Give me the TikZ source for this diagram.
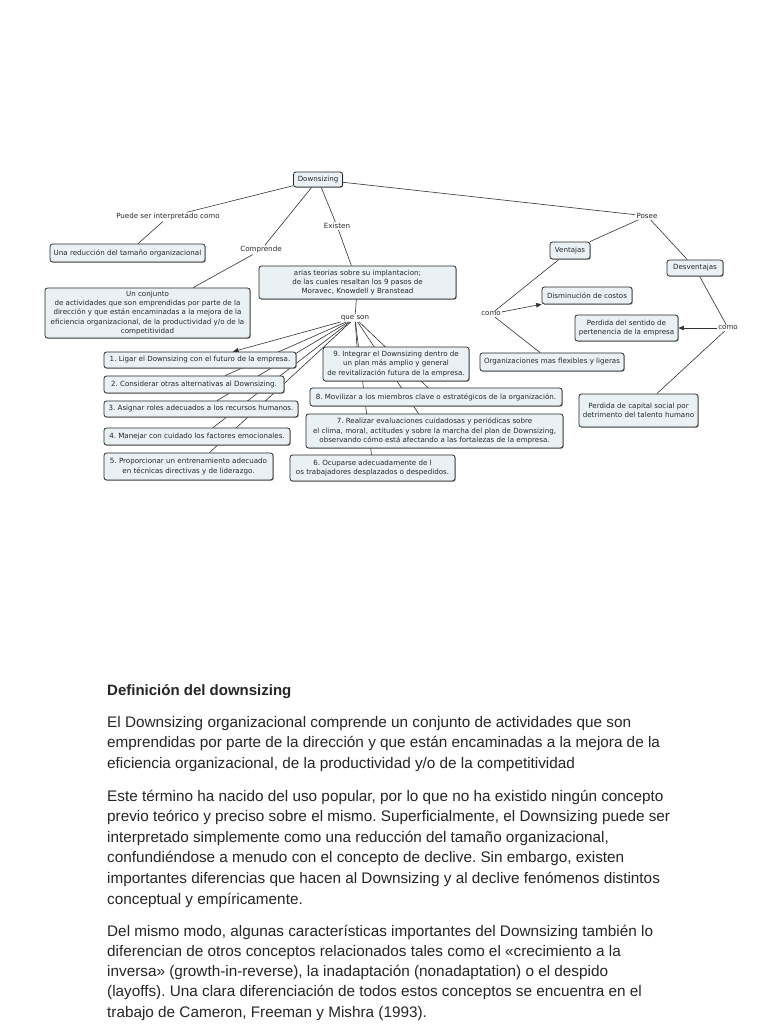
\documentclass[tikz,border=0pt]{standalone}
\usepackage{fontspec}
\newfontfamily\dvs{DejaVu Sans}
\newfontfamily\lsans{Liberation Sans}
\usetikzlibrary{arrows.meta,backgrounds,shadows}
\definecolor{boxfill}{RGB}{233,241,244}
\definecolor{edgecol}{RGB}{50,50,50}
\definecolor{txtcol}{RGB}{40,40,40}
\frenchspacing
\begin{document}
\begin{tikzpicture}[x=1pt,y=-1pt,
  concept/.style={draw=black!85, line width=0.75pt, fill=boxfill, rounded corners=2.5pt,
    align=center, inner sep=1pt, font=\dvs\fontsize{7.1}{9.2}\selectfont, text=txtcol,
    general shadow={fill=black!50, shadow xshift=0.7pt, shadow yshift=-0.7pt}},
  link/.style={inner sep=1pt, font=\dvs\fontsize{7.1}{8}\selectfont, text=txtcol},
  conn/.style={draw=edgecol, line width=0.6pt},
  arr/.style={conn, -{Triangle[length=5.5pt,width=4.5pt]}},
  body/.style={anchor=base west, inner sep=0pt, font=\lsans\fontsize{15.3}{20}\selectfont, text=black!85}
]
\useasboundingbox (0,0) rectangle (768,1024);

% concepts
\node[concept, minimum width=49pt, minimum height=15pt] (ds) at (318,179.5) {Downsizing};
\node[concept, minimum width=155pt, minimum height=18pt] (red) at (127.5,253) {Una reducción del tamaño organizacional};
\node[concept, minimum width=205pt, minimum height=50pt] (conj) at (147.5,313) {Un conjunto\\de actividades que son emprendidas por parte de la\\dirección y que están encaminadas a la mejora de la\\eficiencia organizacional, de la productividad y/o de la\\competitividad};
\node[concept, minimum width=197pt, minimum height=33pt] (teor) at (357.5,282.5) {arias teorias sobre su implantacion;\\de las cuales resaltan los 9 pasos de\\Moravec, Knowdell y Branstead};
\node[concept, minimum width=40pt, minimum height=17pt] (vent) at (570,250.5) {Ventajas};
\node[concept, minimum width=56pt, minimum height=16pt] (desv) at (695,268) {Desventajas};
\node[concept, minimum width=90pt, minimum height=17pt] (dism) at (587,295.5) {Disminución de costos};
\node[concept, minimum width=103pt, minimum height=26pt] (pert) at (626.5,328) {Perdida del sentido de\\pertenencia de la empresa};
\node[concept, minimum width=144pt, minimum height=18pt] (org) at (552,362) {Organizaciones mas flexibles y ligeras};
\node[concept, minimum width=119pt, minimum height=33pt] (cap) at (638.5,410.5) {Perdida de capital social por\\detrimento del talento humano};

\node[concept, minimum width=192pt, minimum height=16pt] (b1) at (200,360) {1. Ligar el Downsizing con el futuro de la empresa.};
\node[concept, minimum width=180pt, minimum height=17pt] (b2) at (194,384.5) {2. Considerar otras alternativas al Downsizing.};
\node[concept, minimum width=194pt, minimum height=16pt] (b3) at (201,409) {3. Asignar roles adecuados a los recursos humanos.};
\node[concept, minimum width=186pt, minimum height=17pt] (b4) at (197,436.5) {4. Manejar con cuidado los factores emocionales.};
\node[concept, minimum width=169pt, minimum height=27pt] (b5) at (188.5,466.5) {5. Proporcionar un entrenamiento adecuado\\en técnicas directivas y de liderazgo.};
\node[concept, minimum width=146pt, minimum height=34pt] (b9) at (396,364) {9. Integrar el Downsizing dentro de\\un plan más amplio y general\\de revitalización futura de la empresa.};
\node[concept, minimum width=252pt, minimum height=18pt] (b8) at (436,397) {8. Movilizar a los miembros clave o estratégicos de la organización.};
\node[concept, minimum width=257pt, minimum height=34pt] (b7) at (434.5,431) {7. Realizar evaluaciones cuidadosas y periódicas sobre\\el clima, moral, actitudes y sobre la marcha del plan de Downsizing,\\observando cómo está afectando a las fortalezas de la empresa.};
\node[concept, minimum width=165pt, minimum height=26pt] (b6) at (372.5,468) {6. Ocuparse adecuadamente de l\\os trabajadores desplazados o despedidos.};

% linking phrases
\node[link] (lpuede) at (168,217) {Puede ser interpretado como};
\node[link] (lcomp) at (261,250) {Comprende};
\node[link] (lexist) at (337,226) {Existen};
\node[link] (lqueson) at (355,318) {que son};
\node[link] (lposee) at (647,216) {Posee};
\node[link] (lcomo1) at (491,314) {como};
\node[link] (lcomo2) at (728,328) {como};

% body text
\node[body, font=\lsans\bfseries\fontsize{15}{20}\selectfont] (head) at (107,695) {Definición del downsizing};
\foreach \t [count=\i] in {
  {El Downsizing organizacional comprende un conjunto de actividades que son},
  {emprendidas por parte de la dirección y que están encaminadas a la mejora de la},
  {eficiencia organizacional, de la productividad y/o de la competitividad}}
  \node[body] (pa\i) at (107,{727+(\i-1)*20.8}) {\t};
\foreach \t [count=\i] in {
  {Este término ha nacido del uso popular, por lo que no ha existido ningún concepto},
  {previo teórico y preciso sobre el mismo. Superficialmente, el Downsizing puede ser},
  {interpretado simplemente como una reducción del tamaño organizacional,},
  {confundiéndose a menudo con el concepto de declive. Sin embargo, existen},
  {importantes diferencias que hacen al Downsizing y al declive fenómenos distintos},
  {conceptual y empíricamente.}}
  \node[body] (pb\i) at (107,{801+(\i-1)*20.6}) {\t};
\foreach \t [count=\i] in {
  {Del mismo modo, algunas características importantes del Downsizing también lo},
  {diferencian de otros conceptos relacionados tales como el «crecimiento a la},
  {inversa» (growth-in-reverse), la inadaptación (nonadaptation) o el despido},
  {(layoffs). Una clara diferenciación de todos estos conceptos se encuentra en el},
  {trabajo de Cameron, Freeman y Mishra (1993).}}
  \node[body] (pc\i) at (107,{936+(\i-1)*20.3}) {\t};

% connectors
\begin{scope}[on background layer]
\fill[white] (0,0) rectangle (768,1024);
\draw[conn] (ds) -- (lpuede);
\draw[conn] (lpuede) -- (red);
\draw[conn] (ds) -- (lcomp);
\draw[conn] (lcomp) -- (conj);
\draw[conn] (ds) -- (lexist);
\draw[conn] (lexist) -- (teor);
\draw[conn] (ds) -- (lposee);
\draw[conn] (lposee) -- (vent);
\draw[conn] (lposee) -- (desv);
\draw[conn] (vent) -- (lcomo1);
\draw[arr] (lcomo1) -- (dism);
\draw[conn] (lcomo1) -- (org);
\draw[conn] (desv) -- (lcomo2);
\draw[arr] (lcomo2) -- (pert);
\draw[conn] (lcomo2) -- (cap);
\draw[conn] (teor) -- (lqueson);
\draw[arr] (lqueson) -- ([xshift=33pt]b1.north);
\draw[conn] (lqueson) -- ([xshift=31pt]b2.north);
\draw[conn] (lqueson) -- ([xshift=16pt]b3.north);
\draw[conn] (lqueson) -- ([xshift=16pt]b4.north);
\draw[conn] (lqueson) -- ([xshift=21pt]b5.north);
\draw[conn] (lqueson) -- ([xshift=-39pt]b9.north);
\draw[conn] (lqueson) -- ([xshift=-8pt]b8.north);
\draw[conn] (lqueson) -- ([xshift=-16pt]b7.north);
\draw[conn] (lqueson) -- ([xshift=-1pt]b6.north);
\end{scope}
\end{tikzpicture}
\end{document}
